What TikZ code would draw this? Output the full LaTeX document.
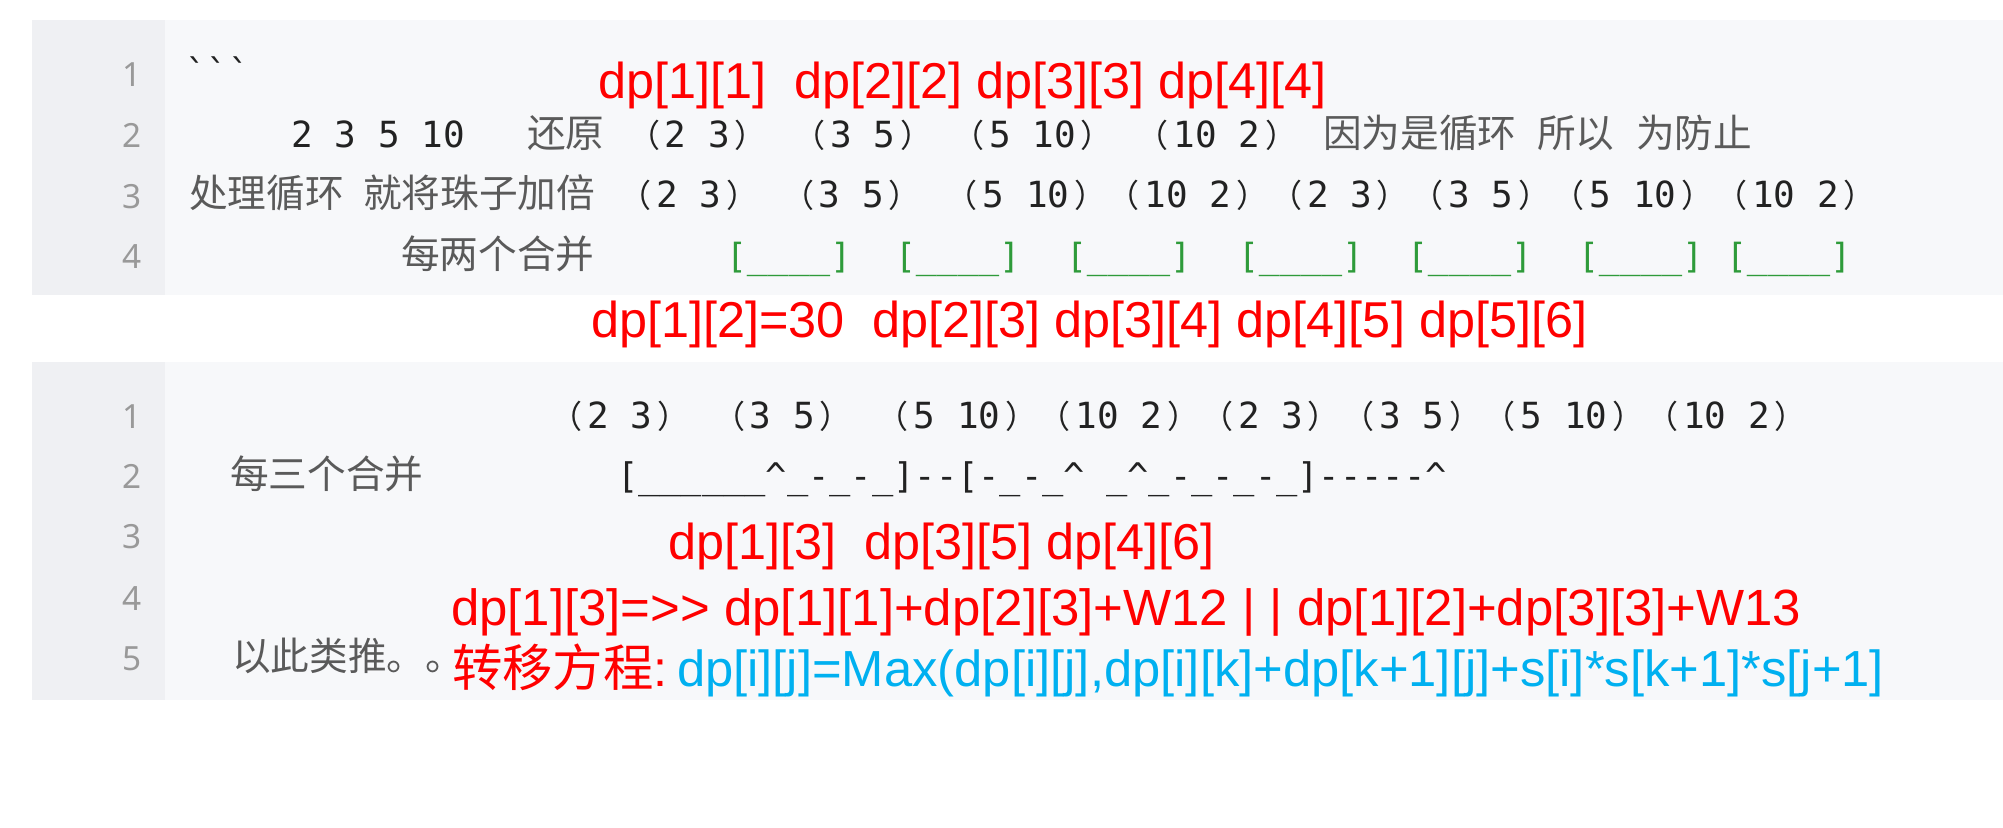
\documentclass[tikz,border=0pt]{standalone}
\usepackage{fontspec}
\setmainfont{Liberation Sans}
\newfontfamily\redf{Liberation Sans}
\newfontfamily\cjk{Noto Sans CJK SC}
\newfontfamily\monof{DejaVu Sans Mono}
\newfontfamily\numf{Noto Sans}
\definecolor{panelbg}{HTML}{F7F8FA}
\definecolor{guttbg}{HTML}{EFF0F3}
\definecolor{lngray}{HTML}{999999}
\definecolor{codeblack}{HTML}{222222}
\definecolor{cjkgray}{HTML}{5A5A5A}
\definecolor{codegreen}{HTML}{2E9B3A}
\definecolor{cyanc}{HTML}{00B0F0}
\definecolor{redc}{HTML}{FF0000}
\newcommand\pgrp[1]{{\cjk\fontsize{24}{24}\selectfont\kern-0.4em（\kern0.15em}#1{\cjk\fontsize{24}{24}\selectfont\kern0.15em）\kern-0.4em}}
\tikzset{
  redt/.style={anchor=base west, text=redc, font=\redf\fontsize{37.8}{40}\selectfont},
  cyant/.style={anchor=base west, text=cyanc, font=\redf\fontsize{38.05}{40}\selectfont},
  codem/.style={anchor=base west, text=codeblack, font=\monof\fontsize{27}{28}\selectfont},
  codec/.style={anchor=base west, text=cjkgray, font=\cjk\fontsize{29}{30}\selectfont},
  grp/.style={anchor=base, text=codeblack, font=\monof\fontsize{27}{28}\selectfont},
  greenb/.style={codem, text=codegreen, font=\monof\fontsize{26}{28}\selectfont},
  lnum/.style={anchor=base, text=lngray, font=\numf\fontsize{25}{26}\selectfont},
}
\begin{document}
\begin{tikzpicture}[x=0.75pt,y=-0.75pt, every node/.style={inner sep=0pt, outer sep=0pt}]
\fill[white] (0,0) rectangle (2003,828);
\useasboundingbox (0,0) rectangle (2003,828);
% panels
\fill[panelbg] (32,20) rectangle (2003,295);
\fill[guttbg] (32,20) rectangle (165,295);
\fill[panelbg] (32,362) rectangle (2003,700);
\fill[guttbg] (32,362) rectangle (165,700);
% line numbers
\foreach \y/\n in {86/1,147/2,208/3,268/4} \node[lnum] (la\n) at (132,\y) {\n};
\foreach \y/\n in {428/1,488/2,548/3,610/4,670/5} \node[lnum] (lb\n) at (132,\y) {\n};
% panel 1
\node[codem] (bt) at (185,85) {\char"60\char"60\char"60};
\node[redt] (r1) at (598,98) {dp[1][1]\ \ dp[2][2] dp[3][3] dp[4][4]};
\node[codem] (nums) at (291.5,147) {2 3 5 10};
\node[codec] (hy) at (527,147) {还原};
\foreach \x/\t [count=\i] in {697.5/2 3,863/3 5,1032.5/5 10,1217/10 2}
  \node[grp] (ga\i) at (\x,147) {\pgrp{\t}};
\node[codec] (yw) at (1323,147) {因为是循环};
\node[codec] (sy) at (1537,147) {所以};
\node[codec] (wf) at (1636,147) {为防止};
\node[codec] (cl) at (189,207) {处理循环};
\node[codec] (jj) at (363,207) {就将珠子加倍};
\foreach \x/\t [count=\i] in {689/2 3,851.5/3 5,1026/5 10,1188/10 2,1339.5/2 3,1481/3 5,1633/5 10,1795.5/10 2}
  \node[grp] (gb\i) at (\x,207) {\pgrp{\t}};
\node[codec] (mlg) at (401,268) {每两个合并};
\foreach \x [count=\i] in {726,895,1066,1238,1407,1578,1726}
  \node[greenb] (gr\i) at (\x,268) {[\_\_\_\_]};
% between panels
\node[redt] (r2) at (591,337) {dp[1][2]=30\ \ dp[2][3] dp[3][4] dp[4][5] dp[5][6]};
% panel 2
\foreach \x/\t [count=\i] in {620/2 3,782.5/3 5,957/5 10,1119/10 2,1270.5/2 3,1412/3 5,1564/5 10,1726.5/10 2}
  \node[grp] (gc\i) at (\x,428) {\pgrp{\t}};
\node[codec] (msg) at (230,488) {每三个合并};
\node[codem, font=\monof\fontsize{26.5}{28}\selectfont] (seq) at (617,488) {[\_\_\_\_\_\_\textasciicircum\_-\_-\_]-{}-[-\_-\_\textasciicircum{} \_\textasciicircum\_-\_-\_-\_]-{}-{}-{}-{}-\textasciicircum};
\node[redt] (r3) at (668,559) {dp[1][3]\ \ dp[3][5] dp[4][6]};
\node[redt, font=\redf\fontsize{38.2}{40}\selectfont] (r4) at (451,625) {dp[1][3]=>{}> dp[1][1]+dp[2][3]+W12 | | dp[1][2]+dp[3][3]+W13};
\node[codec] (ycl) at (232,670) {以此类推。。};
\node[redt] (zy) at (452,686) {{\cjk 转移方程}:};
\node[cyant] (eq) at (677,686) {dp[i][j]=Max(dp[i][j],dp[i][k]+dp[k+1][j]+s[i]*s[k+1]*s[j+1]};
\end{tikzpicture}
\end{document}
